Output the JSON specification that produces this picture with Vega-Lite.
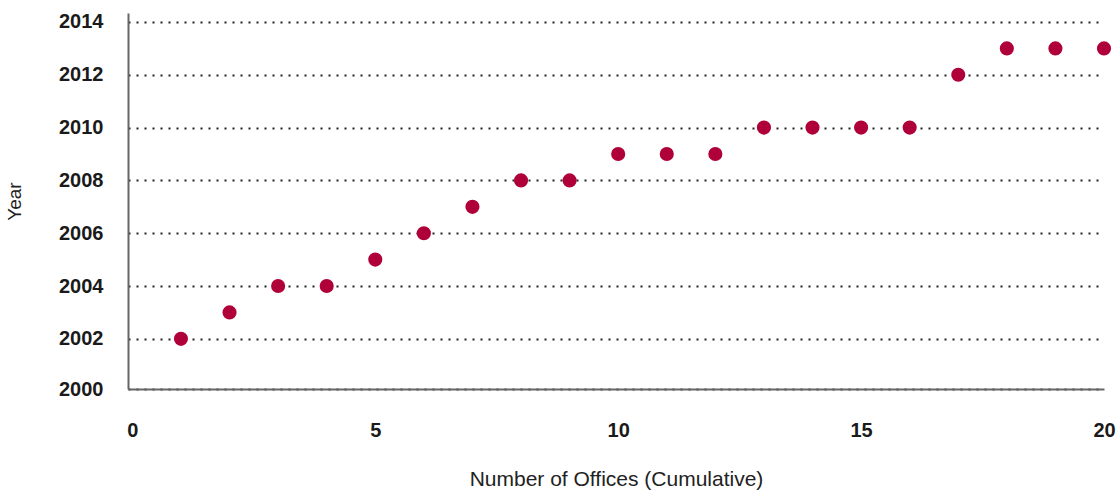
{
  "$schema": "https://vega.github.io/schema/vega-lite/v6.json",
  "width": 976,
  "height": 376,
  "autosize": {"type": "none"},
  "padding": {"left": 128, "top": 13, "right": 16, "bottom": 104},
  "background": "white",
  "config": {"view": {"stroke": null}, "font": "Liberation Sans"},
  "data": {"values": [
    {"offices": 1, "year": 2002},
    {"offices": 2, "year": 2003},
    {"offices": 3, "year": 2004},
    {"offices": 4, "year": 2004},
    {"offices": 5, "year": 2005},
    {"offices": 6, "year": 2006},
    {"offices": 7, "year": 2007},
    {"offices": 8, "year": 2008},
    {"offices": 9, "year": 2008},
    {"offices": 10, "year": 2009},
    {"offices": 11, "year": 2009},
    {"offices": 12, "year": 2009},
    {"offices": 13, "year": 2010},
    {"offices": 14, "year": 2010},
    {"offices": 15, "year": 2010},
    {"offices": 16, "year": 2010},
    {"offices": 17, "year": 2012},
    {"offices": 18, "year": 2013},
    {"offices": 19, "year": 2013},
    {"offices": 20, "year": 2013}
  ]},
  "mark": {"type": "circle", "color": "#B0003A", "opacity": 1, "size": 200},
  "encoding": {
    "x": {
      "field": "offices", "type": "quantitative",
      "scale": {"domain": [-0.09, 20], "nice": false, "zero": false},
      "axis": {
        "title": "Number of Offices (Cumulative)",
        "values": [0, 5, 10, 15, 20],
        "grid": false, "ticks": false,
        "domainColor": "#666666", "domainWidth": 2,
        "labelFont": "Liberation Sans", "labelFontWeight": "bold", "labelFontSize": 20,
        "labelColor": "#1a1a1a", "labelPadding": 31,
        "labelFlush": false,
        "titleFont": "Liberation Sans", "titleFontWeight": "normal", "titleFontSize": 21,
        "titleColor": "#222222", "titlePadding": 28
      }
    },
    "y": {
      "field": "year", "type": "quantitative",
      "scale": {"domain": [2000.1, 2014.34], "nice": false, "zero": false},
      "axis": {
        "title": "Year",
        "values": [2000.1, 2002, 2004, 2006, 2008, 2010, 2012, 2014],
        "format": "d",
        "grid": true, "gridDash": [2, 6], "gridColor": "#222222", "gridWidth": 2, "gridOpacity": 1,
        "ticks": false,
        "domainColor": "#666666", "domainWidth": 2,
        "labelFont": "Liberation Sans", "labelFontWeight": "bold", "labelFontSize": 20,
        "labelColor": "#1a1a1a", "labelPadding": 25,
        "titleFont": "Liberation Sans", "titleFontWeight": "normal", "titleFontSize": 19,
        "titleColor": "#222222", "titlePadding": 34
      }
    }
  }
}
